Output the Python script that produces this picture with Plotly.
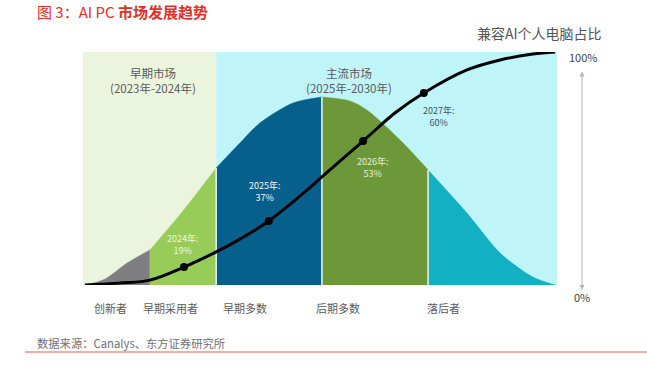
import plotly.graph_objects as go

# ---------------- data ----------------
# bell curve (adoption distribution), x 0..100 across the panel, y 0..100 percent scale
bell_x = [0.4, 4.6, 9.3, 14.1, 21.1, 28.1, 33.1, 37.3, 44.3, 50.4, 56.3, 59.9, 66.9, 72.8, 81.0, 88.0, 94.9, 99.6]
bell_y = [0.0, 2.5, 9.4, 15.0, 31.8, 50.2, 60.9, 69.5, 78.1, 80.7, 79.0, 75.1, 62.2, 49.4, 30.9, 13.7, 3.4, 0.0]

segment_bounds = [0.4, 14.1, 28.1, 50.4, 72.8, 99.6]
segment_names = ["创新者", "早期采用者", "早期多数", "后期多数", "落后者"]
segment_colors = ["#7f7f81", "#98cc58", "#07608c", "#6d9839", "#13afc2"]

# S curve: share of AI-capable PCs
s_x = [0.4, 7.8, 14.1, 21.3, 28.1, 33.1, 39.2, 47.3, 50.4, 59.1, 65.8, 71.9, 81.0, 88.0, 94.9, 99.6]
s_y = [0.0, 0.9, 2.1, 7.7, 14.2, 19.7, 27.5, 40.8, 46.4, 61.8, 73.8, 82.4, 92.3, 96.6, 99.1, 100.0]

marker_x = [21.3, 39.2, 59.1, 71.9]
marker_y = [7.7, 27.5, 61.8, 82.4]
marker_years = ["2024年", "2025年", "2026年", "2027年"]
marker_values = ["19%", "37%", "53%", "60%"]

market_bounds = [0, 28.1, 100]
market_names = ["早期市场", "主流市场"]
market_periods = ["(2023年-2024年)", "(2025年-2030年)"]
market_colors = ["#ebf5de", "#bff4f8"]

FONT = "Noto Sans CJK SC"

W, H = 647, 372
PL, PR, PT, PB = 83, 557, 52, 285   # plot area in screenshot pixels


def px_x(px):
    return (px - PL) / float(PR - PL)


def px_y(py):
    return (PB - py) / float(PB - PT)


fig = go.Figure()

# background market regions
for i in range(2):
    fig.add_shape(type="rect", xref="x", yref="y",
                  x0=market_bounds[i], x1=market_bounds[i + 1], y0=0, y1=100,
                  fillcolor=market_colors[i], line=dict(width=0), layer="below")

# bell segments
for i in range(5):
    a, b = segment_bounds[i], segment_bounds[i + 1]
    xs = [x for x in bell_x if a - 1e-9 <= x <= b + 1e-9]
    ys = [y for x, y in zip(bell_x, bell_y) if a - 1e-9 <= x <= b + 1e-9]
    fig.add_trace(go.Scatter(x=xs, y=ys, mode="lines", fill="tozeroy",
                             line=dict(color=segment_colors[i], width=0.5, shape="spline", smoothing=0.8),
                             fillcolor=segment_colors[i], hoverinfo="skip", showlegend=False))

# thin light separators
for b in segment_bounds[2:5]:
    h = bell_y[bell_x.index(b)]
    fig.add_trace(go.Scatter(x=[b, b], y=[0, h], mode="lines",
                             line=dict(color="#e6f7f5", width=1.5),
                             hoverinfo="skip", showlegend=False))

# S curve
fig.add_trace(go.Scatter(x=s_x, y=s_y, mode="lines",
                         line=dict(color="#000000", width=3, shape="spline", smoothing=1.0),
                         cliponaxis=False, hoverinfo="skip", showlegend=False))
fig.add_trace(go.Scatter(x=marker_x, y=marker_y, mode="markers",
                         marker=dict(color="#000000", size=8),
                         cliponaxis=False, hoverinfo="skip", showlegend=False))

# point labels
label_px = [(182, 244), (264, 191), (372, 167), (438, 116)]
label_colors = ["#eef7de", "#f2f7fb", "#e6eed6", "#44556a"]
for i in range(4):
    fig.add_annotation(x=px_x(label_px[i][0]), y=px_y(label_px[i][1]),
                       xref="paper", yref="paper", xanchor="center", yanchor="middle",
                       text=marker_years[i] + ":<br>" + marker_values[i], showarrow=False,
                       font=dict(family=FONT, size=9, color=label_colors[i]),
                       align="center")

# market titles
market_px = [(153, 80), (349, 80)]
for i in range(2):
    fig.add_annotation(x=px_x(market_px[i][0]), y=px_y(market_px[i][1]),
                       xref="paper", yref="paper", xanchor="center", yanchor="middle",
                       text=market_names[i] + "<br>" + market_periods[i], showarrow=False,
                       font=dict(family=FONT, size=11.5, color="#595959"), align="center")

# category labels under the axis
cat_px = [110, 170, 245, 338, 443]
for i in range(5):
    fig.add_annotation(x=px_x(cat_px[i]), y=px_y(308), xref="paper", yref="paper",
                       xanchor="center", yanchor="middle",
                       text=segment_names[i], showarrow=False,
                       font=dict(family=FONT, size=11, color="#5a5a5a"))

# right side percent axis
fig.add_annotation(x=px_x(582), y=px_y(290), xref="paper", yref="paper",
                   ax=0, ay=-220, axref="pixel", ayref="pixel",
                   showarrow=True, arrowside="end+start", arrowhead=2, arrowsize=1,
                   arrowwidth=1, arrowcolor="#b5b5b5", text="")
fig.add_annotation(x=px_x(583), y=px_y(57), xref="paper", yref="paper",
                   xanchor="center", yanchor="middle",
                   text="100%", showarrow=False,
                   font=dict(family=FONT, size=11, color="#444444"))
fig.add_annotation(x=px_x(582), y=px_y(297), xref="paper", yref="paper",
                   xanchor="center", yanchor="middle",
                   text="0%", showarrow=False,
                   font=dict(family=FONT, size=11, color="#444444"))
fig.add_annotation(x=px_x(539), y=px_y(33), xref="paper", yref="paper",
                   xanchor="center", yanchor="middle",
                   text="兼容AI个人电脑占比", showarrow=False,
                   font=dict(family=FONT, size=14, color="#555555"))

# title, source, red rule
fig.add_annotation(x=px_x(35), y=px_y(11), xref="paper", yref="paper",
                   xanchor="left", yanchor="middle",
                   text="图 3：AI PC <b>市场发展趋势</b>", showarrow=False,
                   font=dict(family=FONT, size=15, color="#e3302a"))
fig.add_annotation(x=px_x(35), y=px_y(343), xref="paper", yref="paper",
                   xanchor="left", yanchor="middle",
                   text="数据来源：Canalys、东方证券研究所", showarrow=False,
                   font=dict(family=FONT, size=11.3, color="#707070"))
fig.add_shape(type="line", xref="paper", yref="paper",
              x0=px_x(25), x1=px_x(W), y0=px_y(352), y1=px_y(352),
              line=dict(color="#ef5a50", width=1.2))

fig.update_xaxes(range=[0, 100], visible=False, fixedrange=True)
fig.update_yaxes(range=[0, 100], visible=False, fixedrange=True)
fig.update_layout(width=W, height=H,
                  margin=dict(l=PL, r=W - PR, t=PT, b=H - PB),
                  paper_bgcolor="#ffffff", plot_bgcolor="#ffffff",
                  showlegend=False, hovermode=False)

fig.write_html("out.html", config={"displayModeBar": False, "staticPlot": True},
               post_script="document.body.style.margin='0';document.body.style.overflow='hidden';")
